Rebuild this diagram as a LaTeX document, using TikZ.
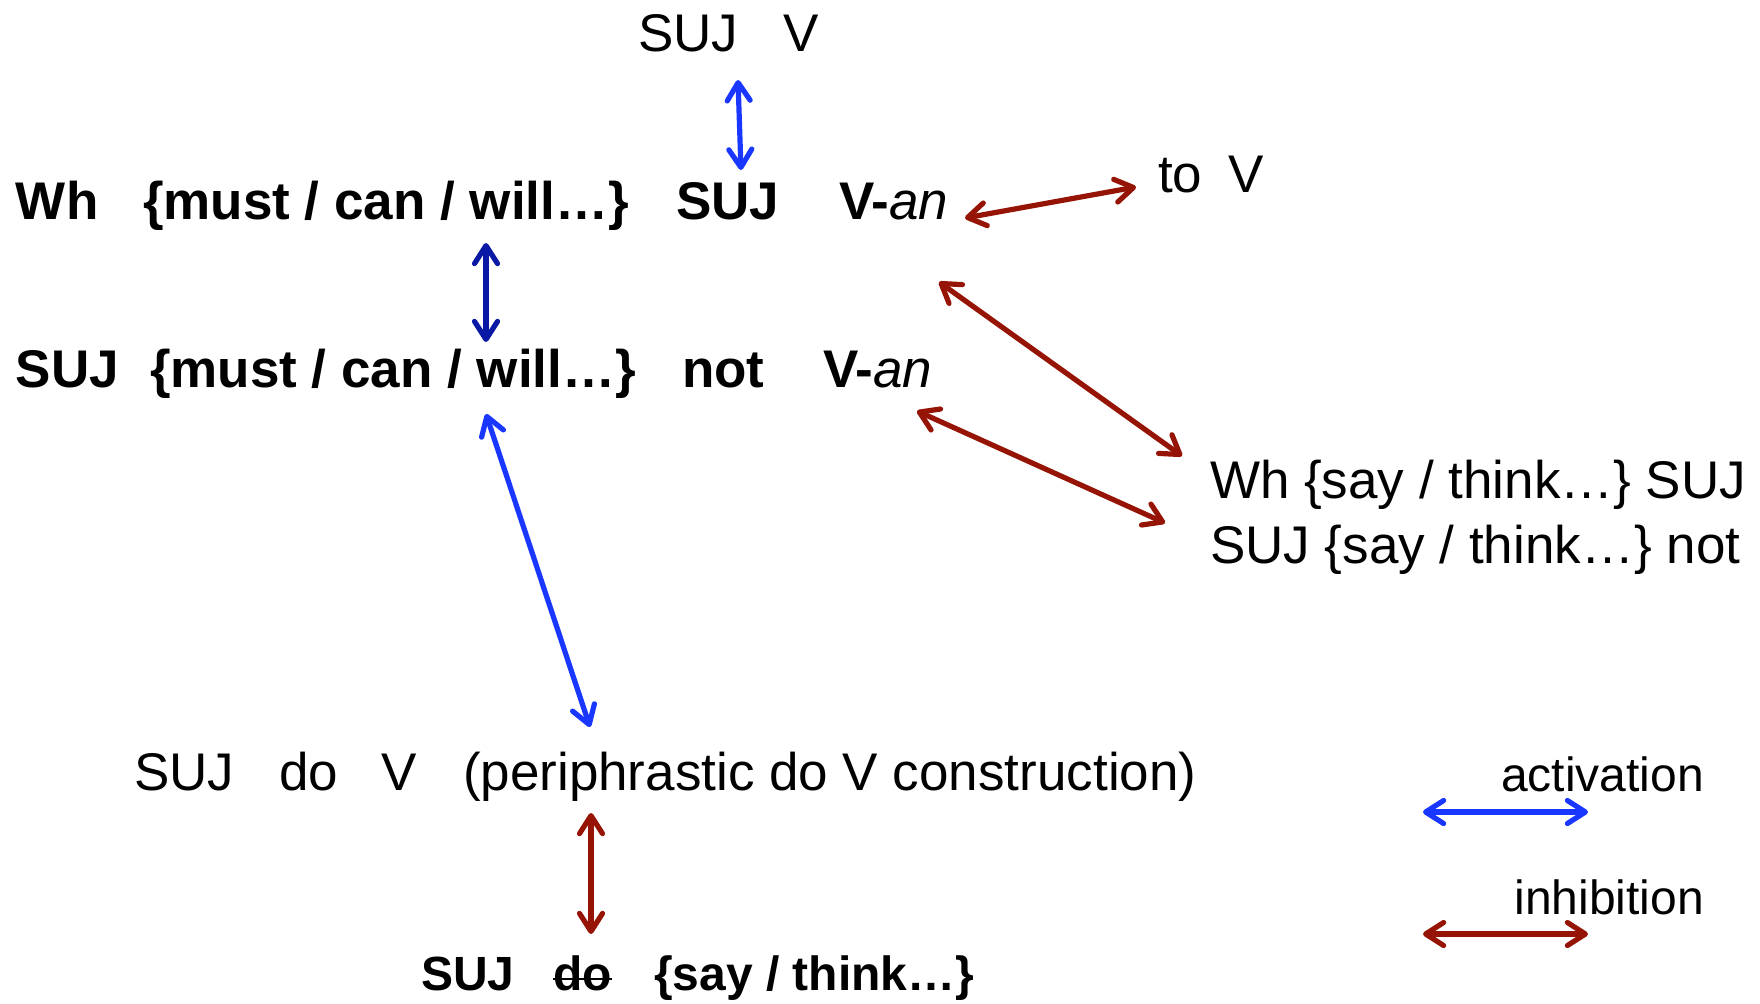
\documentclass[tikz,border=0pt]{standalone}
\usepackage{fontspec}
\setmainfont{Liberation Sans}
\usetikzlibrary{arrows.meta}
\definecolor{actblue}{RGB}{25,55,255}
\definecolor{deepblue}{RGB}{10,25,165}
\definecolor{inhred}{RGB}{150,20,5}
\begin{document}
\begin{tikzpicture}[x=0.5pt,y=-0.5pt,
  txt/.style={inner sep=0pt,outer sep=0pt,anchor=base west,font=\fontsize{26.5}{30}\selectfont},
  btxt/.style={txt,font=\fontsize{26.5}{30}\selectfont\bfseries},
  sbtxt/.style={txt,font=\fontsize{24}{28}\selectfont\bfseries},
  legtxt/.style={inner sep=0pt,outer sep=0pt,anchor=base east,font=\fontsize{24}{28}\selectfont},
  barb/.tip={Straight Barb[length=9pt,width=11.5pt,line cap=round,line join=round]},
  link/.style={line width=2.6pt,line cap=round,barb-barb},
  act/.style={link,draw=actblue},
  actdeep/.style={link,draw=deepblue},
  inh/.style={link,draw=inhred}
]
\useasboundingbox (0,0) rectangle (1760,1003);

% top
\node[txt] (tsuj) at (638,51) {SUJ};
\node[txt] (tv) at (783,51) {V};

% row 1
\node[btxt] (r1wh) at (16,219) {Wh};
\node[btxt] (r1mod) at (143,219) {\{must / can / will…\}};
\node[btxt] (r1suj) at (676,219) {SUJ};
\node[btxt] (r1v) at (839,219) {V-\textit{\mdseries an}};

% to V
\node[txt] (tto) at (1158,192) {to};
\node[txt] (ttov) at (1228,192) {V};

% row 2
\node[btxt] (r2suj) at (16,387) {SUJ};
\node[btxt] (r2mod) at (150,387) {\{must / can / will…\}};
\node[btxt] (r2not) at (682,387) {not};
\node[btxt] (r2v) at (823,387) {V-\textit{\mdseries an}};

% right block
\node[txt] (say1) at (1210,498) {Wh \{say / think…\} SUJ};
\node[txt] (say2) at (1210,563) {SUJ \{say / think…\} not};

% periphrastic row
\node[txt] (psuj) at (134,790) {SUJ};
\node[txt] (pdo) at (279,790) {do};
\node[txt] (pv) at (381,790) {V};
\node[txt] (pnote) at (463,790) {(periphrastic do V construction)};

% bottom row
\node[sbtxt] (bsuj) at (421,990) {SUJ};
\node[sbtxt] (bdo) at (553,990) {do};
\node[sbtxt] (bsay) at (654,990) {\{say / think…\}};
\draw[line width=1.2pt] ([yshift=5.5pt]bdo.base west) -- ([yshift=5.5pt]bdo.base east);

% legend
\node[legtxt] (lact) at (1704,791) {activation};
\node[legtxt] (linh) at (1704,914) {inhibition};

% connector end points
\coordinate (a1s) at (738,80);   \coordinate (a1e) at (741,170);
\coordinate (a2s) at (486,243);  \coordinate (a2e) at (486,342);
\coordinate (a3s) at (965,218);  \coordinate (a3e) at (1136,187);
\coordinate (a4s) at (939,282);  \coordinate (a4e) at (1182,456);
\coordinate (a5s) at (917,411);  \coordinate (a5e) at (1165,523);
\coordinate (a6s) at (486,414);  \coordinate (a6e) at (590,727);
\coordinate (a7s) at (591,813);  \coordinate (a7e) at (591,934);
\coordinate (l1s) at (1423,812); \coordinate (l1e) at (1588,812);
\coordinate (l2s) at (1423,934); \coordinate (l2e) at (1588,934);

\draw[act] (a1s) -- (a1e);
\draw[actdeep] (a2s) -- (a2e);
\draw[inh] (a3s) -- (a3e);
\draw[inh] (a4s) -- (a4e);
\draw[inh] (a5s) -- (a5e);
\draw[act] (a6s) -- (a6e);
\draw[inh] (a7s) -- (a7e);
\draw[act] (l1s) -- (l1e);
\draw[inh] (l2s) -- (l2e);
\end{tikzpicture}
\end{document}
